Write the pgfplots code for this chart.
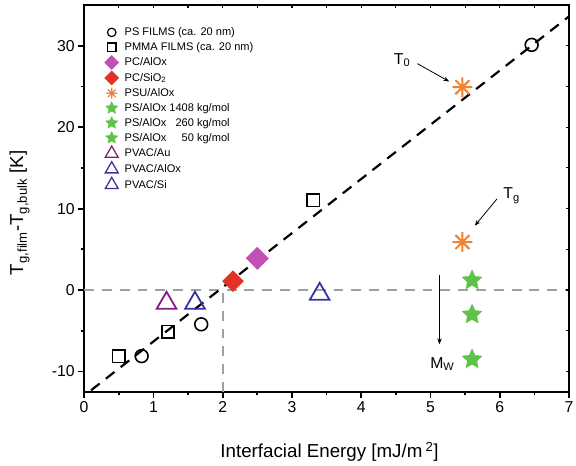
\documentclass[border=0pt]{standalone}
\usepackage{fontspec}
\setmainfont{Liberation Sans}
\usepackage{pgfplots}
\pgfplotsset{compat=1.18}
\usetikzlibrary{arrows.meta}

\definecolor{pcmag}{RGB}{192,80,180}
\definecolor{pcred}{RGB}{225,50,35}
\definecolor{psuorange}{RGB}{240,130,50}
\definecolor{psgreen}{RGB}{95,195,75}
\definecolor{pvpurple}{RGB}{130,30,130}
\definecolor{pvblue}{RGB}{55,50,165}
\definecolor{refgray}{RGB}{160,160,160}

% filled five-point star
\pgfdeclareplotmark{fstar}{%
  \pgfpathmoveto{\pgfpointpolar{90}{\pgfplotmarksize}}%
  \pgfpathlineto{\pgfpointpolar{126}{0.48\pgfplotmarksize}}%
  \pgfpathlineto{\pgfpointpolar{162}{\pgfplotmarksize}}%
  \pgfpathlineto{\pgfpointpolar{198}{0.48\pgfplotmarksize}}%
  \pgfpathlineto{\pgfpointpolar{234}{\pgfplotmarksize}}%
  \pgfpathlineto{\pgfpointpolar{270}{0.48\pgfplotmarksize}}%
  \pgfpathlineto{\pgfpointpolar{306}{\pgfplotmarksize}}%
  \pgfpathlineto{\pgfpointpolar{342}{0.48\pgfplotmarksize}}%
  \pgfpathlineto{\pgfpointpolar{18}{\pgfplotmarksize}}%
  \pgfpathlineto{\pgfpointpolar{54}{0.48\pgfplotmarksize}}%
  \pgfpathclose\pgfusepathqfillstroke}
% eight-arm asterisk
\pgfdeclareplotmark{ast8}{%
  \pgfpathmoveto{\pgfpoint{-\pgfplotmarksize}{0pt}}\pgfpathlineto{\pgfpoint{\pgfplotmarksize}{0pt}}%
  \pgfpathmoveto{\pgfpoint{0pt}{-\pgfplotmarksize}}\pgfpathlineto{\pgfpoint{0pt}{\pgfplotmarksize}}%
  \pgfpathmoveto{\pgfpointpolar{45}{\pgfplotmarksize}}\pgfpathlineto{\pgfpointpolar{225}{\pgfplotmarksize}}%
  \pgfpathmoveto{\pgfpointpolar{135}{\pgfplotmarksize}}\pgfpathlineto{\pgfpointpolar{315}{\pgfplotmarksize}}%
  \pgfusepathqstroke}

\begin{document}
\begin{tikzpicture}
\useasboundingbox (-85bp,-74bp) rectangle (497bp,396bp);
\begin{axis}[
    scale only axis,
    width=490bp, height=391bp,
    xmin=0, xmax=7, ymin=-12.5, ymax=35,
    xtick={0,1,2,3,4,5,6,7},
    ytick={-10,0,10,20,30},
    minor x tick num=1, minor y tick num=1,
    xtick pos=left, ytick pos=left,
    tick align=outside,
    major tick length=6bp, minor tick length=3.5bp,
    axis line style={line width=2.2bp},
    tick style={line width=1.8bp, black},
    /pgf/number format/assume math mode=true,
    tick label style={font=\fontsize{16}{18}\selectfont},
    label style={font=\fontsize{19}{22}\selectfont},
    xlabel={Interfacial Energy [mJ/m\,\textsuperscript{2}]},
    ylabel={T\textsubscript{g,film}-T\textsubscript{g,bulk} [K]},
    xlabel style={at={(axis description cs:0.506,-0.169)}, anchor=base},
    ylabel style={at={(axis description cs:-0.133,0.463)}, anchor=center},
    legend cell align=left,
    legend style={draw=none, fill=none,
        at={(axis description cs:0.036,0.952)}, anchor=north west,
        font=\fontsize{11.2}{13}\selectfont, row sep=1.5bp, column sep=4bp},
]
% reference lines
\addplot[forget plot, refgray, line width=2bp, dash pattern=on 10bp off 8bp]
    coordinates {(0,0) (7,0)};
\addplot[forget plot, refgray, line width=2bp, dash pattern=on 10bp off 8bp]
    coordinates {(2,-12.5) (2,0)};
% linear trend
\addplot[forget plot, black, line width=2.2bp, dash pattern=on 11bp off 8bp]
    coordinates {(0.1,-12.3) (7,33.6)};

\addplot[only marks, mark=o, mark size=6.5bp, line width=1.6bp, black,
    legend image post style={mark size=4.3bp, line width=1.2bp}]
    coordinates {(0.83,-8.1) (1.69,-4.2) (6.46,30.1)};
\addplot[only marks, mark=square, mark size=6.3bp, line width=1.6bp, black,
    legend image post style={mark size=4.3bp, line width=1.2bp}]
    coordinates {(0.5,-8.1) (1.21,-5.1) (3.31,11.0)};
\addplot[only marks, mark=square*, mark size=8bp, pcmag, mark options={rotate=45},
    legend image post style={mark size=5bp}]
    coordinates {(2.5,3.9)};
\addplot[only marks, mark=square*, mark size=7.5bp, pcred, mark options={rotate=45},
    legend image post style={mark size=5bp}]
    coordinates {(2.15,1.1)};
\addplot[only marks, mark=ast8, mark size=10bp, line width=2bp, psuorange,
    legend image post style={mark size=5.5bp, line width=1.3bp}]
    coordinates {(5.46,24.9) (5.46,5.9)};
\addplot[only marks, mark=fstar, mark size=10.5bp, psgreen,
    legend image post style={mark size=6.5bp}]
    coordinates {(5.6,-8.5)};
\addplot[only marks, mark=fstar, mark size=10.5bp, psgreen,
    legend image post style={mark size=6.5bp}]
    coordinates {(5.6,-3.0)};
\addplot[only marks, mark=fstar, mark size=10.5bp, psgreen,
    legend image post style={mark size=6.5bp}]
    coordinates {(5.6,1.2)};
\addplot[only marks, mark=triangle, mark size=11.5bp, line width=1.8bp, pvpurple,
    legend image post style={mark size=7.5bp, line width=1.3bp}]
    coordinates {(1.19,-1.6)};
\addplot[only marks, mark=triangle, mark size=11.5bp, line width=1.8bp, pvblue,
    legend image post style={mark size=7.5bp, line width=1.3bp}]
    coordinates {(1.6,-1.6)};
\addplot[only marks, mark=triangle, mark size=11.5bp, line width=1.8bp, pvblue,
    legend image post style={mark size=7.5bp, line width=1.3bp}]
    coordinates {(3.4,-0.5)};

% annotations
\draw[-{Stealth[length=6bp]}, line width=0.8bp] (axis cs:4.81,27.8) -- (axis cs:5.27,25.6);
\node[font=\fontsize{16}{18}\selectfont] at (axis cs:4.59,28.2) {T\textsubscript{0}};
\draw[-{Stealth[length=6bp]}, line width=0.8bp] (axis cs:5.96,11.2) -- (axis cs:5.64,7.9);
\node[font=\fontsize{16}{18}\selectfont] at (axis cs:6.17,11.6) {T\textsubscript{g}};
\draw[-{Stealth[length=6bp]}, line width=0.8bp] (axis cs:5.13,1.8) -- (axis cs:5.13,-6.65);
\node[font=\fontsize{16}{18}\selectfont] at (axis cs:5.17,-9.1) {M\textsubscript{W}};

\legend{PS FILMS (ca. 20 nm), PMMA FILMS (ca. 20 nm), PC/AlOx, PC/SiO\textsubscript{2},
    PSU/AlOx, PS/AlOx 1408 kg/mol, PS/AlOx \hphantom{0}260 kg/mol,
    PS/AlOx \hphantom{00}50 kg/mol, PVAC/Au, PVAC/AlOx, PVAC/Si}
\end{axis}
% short inward ticks on the top and right frame
\begin{axis}[
    scale only axis,
    width=490bp, height=391bp,
    xmin=0, xmax=7, ymin=-12.5, ymax=35,
    xtick={0,1,2,3,4,5,6,7},
    ytick={-10,0,10,20,30},
    minor x tick num=1, minor y tick num=1,
    xtick pos=right, ytick pos=right,
    tick align=inside,
    major tick length=3.5bp, minor tick length=3.5bp,
    xticklabels={}, yticklabels={},
    axis line style={draw=none},
    tick style={line width=1.2bp, black},
]
\end{axis}
\end{tikzpicture}
\end{document}
